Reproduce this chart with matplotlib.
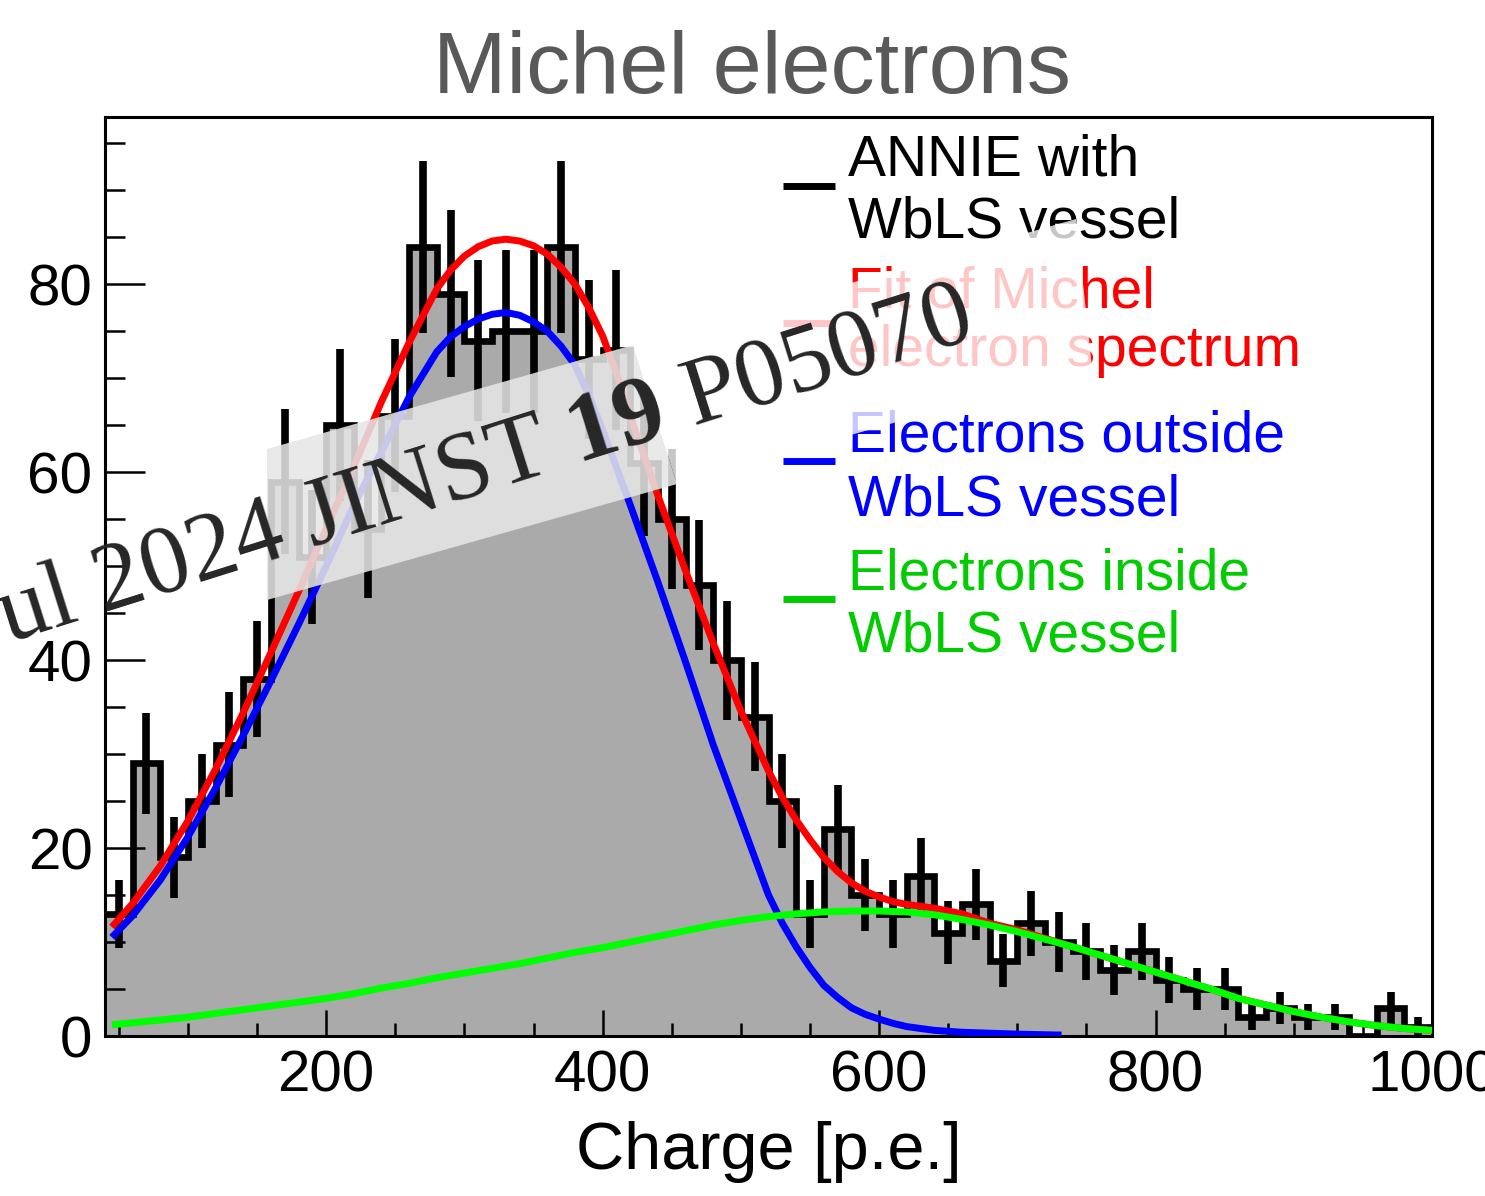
import matplotlib.pyplot as plt
import numpy as np
from matplotlib.lines import Line2D
from matplotlib.patches import Polygon

plt.rcParams['font.family'] = ['Liberation Sans', 'DejaVu Sans']
plt.rcParams['mathtext.fontset'] = 'custom'
plt.rcParams['mathtext.rm'] = 'Liberation Serif'
plt.rcParams['mathtext.bf'] = 'Liberation Serif:bold'

W, H = 1485, 1196

# Michel electron charge spectrum, 48 bins of 20 p.e. from 40 to 1000
bin_edges = np.arange(40, 1001, 20)
counts = np.array([13, 29, 19, 25, 31, 38, 59, 51, 65, 54,
                   66, 84, 79, 74, 75, 75, 84, 72, 73, 61,
                   55, 48, 40, 34, 25, 13, 22, 15, 13, 17,
                   11, 14, 8, 12, 10, 9, 7, 9, 6, 5,
                   5, 2, 3, 2, 2, 0, 3, 1])

# total fit
fit_x = [45, 60, 80, 100, 120, 140, 160, 180, 200, 220, 240, 260, 280, 290,
         300, 310, 320, 330, 340, 350, 360, 370, 380, 390, 400, 410, 420,
         440, 460, 480, 500, 520, 530, 540, 550, 560, 570, 580, 590, 600,
         610, 620, 640, 660, 680, 700, 720, 740, 760, 780, 800, 820, 840,
         860, 880, 900, 920, 940, 960, 980, 1000]
fit_y = [11.6, 14.1, 18.1, 22.9, 28.4, 34.4, 40.8, 47.3, 54.0, 60.6, 67.5,
         73.8, 79.5, 81.5, 83.0, 84.0, 84.6, 84.8, 84.6, 84.1, 83.2, 81.8,
         80.0, 77.5, 74.5, 70.5, 66.0, 57.5, 49.5, 41.8, 34.6, 28.2, 25.4,
         23.0, 20.9, 19.0, 17.5, 16.3, 15.4, 14.8, 14.3, 14.0, 13.6, 13.0,
         12.0, 11.3, 10.4, 9.5, 8.6, 7.7, 6.8, 5.9, 5.0, 4.0, 3.3, 2.6, 2.0,
         1.5, 1.1, 0.8, 0.6]

# component: electrons outside the vessel
out_x = [45, 60, 80, 100, 120, 140, 160, 180, 200, 220, 240, 260, 280, 290,
         300, 310, 320, 330, 340, 350, 360, 370, 380, 390, 400, 420, 440,
         460, 480, 500, 510, 520, 530, 540, 550, 560, 570, 580, 590, 600,
         610, 620, 640, 660, 680, 700, 732]
out_y = [10.5, 12.8, 16.6, 21.2, 26.4, 32.0, 37.8, 43.8, 50.0, 56.5, 62.2,
         68.0, 72.8, 74.4, 75.5, 76.3, 76.8, 77.0, 76.7, 76.0, 75.0, 73.4,
         71.4, 68.2, 64.5, 56.5, 48.3, 39.8, 31.0, 23.0, 19.0, 15.0, 12.0,
         9.5, 7.3, 5.4, 4.1, 3.0, 2.3, 1.8, 1.35, 1.0, 0.6, 0.4, 0.3, 0.2,
         0.1]

# component: electrons inside the vessel
in_x = [45, 60, 80, 100, 120, 140, 160, 180, 200, 220, 240, 260, 280, 300,
        320, 340, 360, 380, 400, 420, 440, 460, 480, 500, 520, 540, 560, 580,
        600, 620, 640, 660, 680, 700, 720, 740, 760, 780, 800, 820, 840, 860,
        880, 900, 920, 940, 960, 980, 1000]
in_y = [1.2, 1.4, 1.7, 2.0, 2.4, 2.8, 3.2, 3.6, 4.0, 4.5, 5.1, 5.6, 6.2, 6.7,
        7.2, 7.7, 8.3, 8.9, 9.4, 10.0, 10.6, 11.2, 11.8, 12.3, 12.7, 13.0,
        13.2, 13.3, 13.3, 13.2, 12.9, 12.4, 11.8, 11.1, 10.3, 9.5, 8.6, 7.7,
        6.8, 5.9, 5.0, 4.0, 3.3, 2.6, 2.0, 1.5, 1.1, 0.8, 0.6]

legend_lines = [["ANNIE with", "WbLS vessel"],
                ["Fit of Michel", "electron spectrum"],
                ["Electrons outside", "WbLS vessel"],
                ["Electrons inside", "WbLS vessel"]]
legend_colors = ['black', '#ff0000', '#0000ff', '#00cc00']


def fx(px):
    return px / W


def fy(py):
    return 1 - py / H


fig = plt.figure(figsize=(W / 100, H / 100), dpi=100)
ax = fig.add_axes([fx(105), fy(1036), fx(1432) - fx(105), fy(117) - fy(1036)])

centers = 0.5 * (bin_edges[:-1] + bin_edges[1:])
ax.stairs(counts, bin_edges, fill=True, color='#aaaaaa', zorder=1)
ax.errorbar(centers, counts, yerr=np.sqrt(counts), fmt='none',
            ecolor='black', elinewidth=5.5, capsize=0, zorder=2)
ax.stairs(counts, bin_edges, baseline=None, color='black', lw=4.8, zorder=3)

curve_kw = dict(lw=5, solid_capstyle='butt', solid_joinstyle='round')
ax.plot(out_x, out_y, color='#0000ff', zorder=4, **curve_kw)
ax.plot(fit_x, fit_y, color='#ff0000', zorder=5, **curve_kw)
ax.plot(in_x, in_y, color='#00ff00', zorder=6, **curve_kw)

ax.set_xlim(40, 1000)
ax.set_ylim(0, 97.8)
ax.set_xticks(np.arange(200, 1001, 200))
ax.set_xticks(np.arange(50, 1001, 50), minor=True)
ax.set_yticks(np.arange(0, 81, 20))
ax.set_yticks(np.arange(0, 97, 5), minor=True)
ax.tick_params(axis='both', which='both', direction='in', width=1.8,
               labelsize=42, top=False, right=False)
ax.tick_params(axis='x', which='major', length=19, pad=10)
ax.tick_params(axis='x', which='minor', length=9.5)
ax.tick_params(axis='y', which='major', length=29, pad=9)
ax.tick_params(axis='y', which='minor', length=14.5)
for s in ax.spines.values():
    s.set_linewidth(2.2)

ax.set_xlabel("Charge [p.e.]", fontsize=48, labelpad=12)
fig.text(fx(752), fy(93), "Michel electrons", fontsize=63.5, color='#595959',
         ha='center', va='baseline')

# legend entries
baselines = [[175, 238], [307, 366], [452, 515], [590, 652]]
marker_y = [186, 323, 461, 599]
for lines, base, my, col in zip(legend_lines, baselines, marker_y,
                                legend_colors):
    fig.add_artist(Line2D([fx(783), fx(835)], [fy(my), fy(my)], color=col,
                          lw=5, solid_capstyle='butt'))
    for txt, b in zip(lines, base):
        fig.text(fx(848), fy(b), txt, fontsize=41, color=col, ha='left',
                 va='baseline')

# journal stamp across the plot: grey backing over the data, pale veil
# continuing over the legend
band = Polygon([[fx(267), fy(600)], [fx(677), fy(484)], [fx(633), fy(345)],
                [fx(267), fy(449)]], closed=True, transform=fig.transFigure,
               facecolor='#e6e6e6', alpha=0.87, edgecolor='none', zorder=10)
fig.add_artist(band)
veil = Polygon([[fx(677), fy(484)], [fx(1092), fy(367)], [fx(1076), fy(219)],
                [fx(633), fy(345)]], closed=True, transform=fig.transFigure,
               facecolor='white', alpha=0.78, edgecolor='none', zorder=10)
fig.add_artist(veil)
fig.text(fx(975), fy(338), r"Jul 2024 JINST $\mathbf{19}$ P05070",
         family='Liberation Serif', fontsize=70, color='#262626',
         rotation=17.5, rotation_mode='anchor', ha='right', va='baseline',
         zorder=11)

fig.savefig('out.png', dpi=100)
